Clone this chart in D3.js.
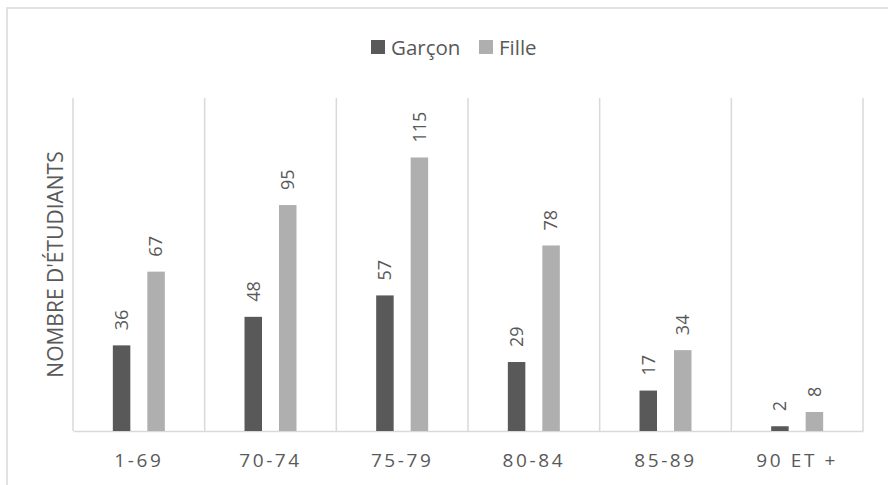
<!DOCTYPE html>
<html>
<head>
<meta charset="utf-8">
<script src="https://cdn.jsdelivr.net/npm/d3@7"></script>
<style>
  html, body { margin: 0; padding: 0; background: #fff; }
  svg { display: block; font-family: "Open Sans", "Noto Sans", sans-serif; }
</style>
</head>
<body>
<svg id="chart" width="888" height="485"></svg>
<script>
// Score ranges and student counts per gender
const categories = ["1-69", "70-74", "75-79", "80-84", "85-89", "90 ET +"];
const seriesNames = ["Garçon", "Fille"];
const garconValues = [36, 48, 57, 29, 17, 2];
const filleValues = [67, 95, 115, 78, 34, 8];
const yAxisTitle = "NOMBRE D'ÉTUDIANTS";

const colors = { "Garçon": "#595959", "Fille": "#AFAFAF" };
const textColor = "#595959";
const gridColor = "#D9D9D9";

const svg = d3.select("#chart");

// Outer chart frame
svg.append("rect")
  .attr("x", 7).attr("y", 8)
  .attr("width", 920).attr("height", 520)
  .attr("fill", "none")
  .attr("stroke", gridColor)
  .attr("stroke-width", 1.5);

const plot = { left: 73, right: 863, top: 98, bottom: 431 };

const x0 = d3.scaleBand()
  .domain(categories)
  .range([plot.left, plot.right])
  .padding(0);

const x1 = d3.scaleBand()
  .domain(seriesNames)
  .range([0, x0.bandwidth()])
  .paddingInner(0.493)
  .paddingOuter(1.155);

const y = d3.scaleLinear()
  .domain([0, 140])
  .range([plot.bottom, plot.top]);

// Vertical separators between categories
const edges = categories.map(c => x0(c)).concat([plot.right]);
svg.append("g").selectAll("line")
  .data(edges)
  .join("line")
  .attr("x1", d => d).attr("x2", d => d)
  .attr("y1", plot.top).attr("y2", plot.bottom)
  .attr("stroke", gridColor)
  .attr("stroke-width", 1.5);

// Category axis along the baseline
const xAxis = svg.append("g")
  .attr("transform", `translate(0,${plot.bottom})`)
  .call(d3.axisBottom(x0).tickSize(0).tickPadding(0));
xAxis.select(".domain")
  .attr("stroke", gridColor)
  .attr("stroke-width", 1.5);
xAxis.selectAll(".tick text")
  .attr("fill", textColor)
  .attr("font-size", 19)
  .attr("letter-spacing", "2.6px")
  .attr("dy", 0)
  .attr("y", 36)
  .style("font-family", "'Open Sans', sans-serif");

// Bars and value labels
const rows = categories.map((c, i) => ({
  category: c,
  values: [
    { name: "Garçon", value: garconValues[i] },
    { name: "Fille", value: filleValues[i] }
  ]
}));

const groups = svg.append("g").selectAll("g")
  .data(rows)
  .join("g")
  .attr("transform", d => `translate(${x0(d.category)},0)`);

groups.selectAll("rect")
  .data(d => d.values)
  .join("rect")
  .attr("x", d => x1(d.name))
  .attr("width", x1.bandwidth())
  .attr("y", d => y(d.value))
  .attr("height", d => y(0) - y(d.value))
  .attr("fill", d => colors[d.name]);

groups.selectAll("text")
  .data(d => d.values)
  .join("text")
  .attr("transform", d => `translate(${x1(d.name) + x1.bandwidth() / 2},${y(d.value) - 15}) rotate(-90)`)
  .attr("dy", "0.35em")
  .attr("text-anchor", "start")
  .attr("fill", textColor)
  .attr("font-size", 18)
  .text(d => d.value);

// Axis title
svg.append("text")
  .attr("transform", `translate(55.5,264.5) rotate(-90)`)
  .attr("dy", "0.35em")
  .attr("text-anchor", "middle")
  .attr("fill", textColor)
  .attr("font-size", 21)
  .text(yAxisTitle);

// Legend
const legendItems = [
  { name: "Garçon", x: 371 },
  { name: "Fille", x: 479 }
];
const legend = svg.append("g").selectAll("g")
  .data(legendItems)
  .join("g")
  .attr("transform", d => `translate(${d.x},40)`);
legend.append("rect")
  .attr("width", 14).attr("height", 14)
  .attr("fill", d => colors[d.name]);
legend.append("text")
  .attr("x", 20).attr("y", 14.5)
  .attr("fill", textColor)
  .attr("font-size", 20.5)
  .text(d => d.name);
</script>
</body>
</html>
